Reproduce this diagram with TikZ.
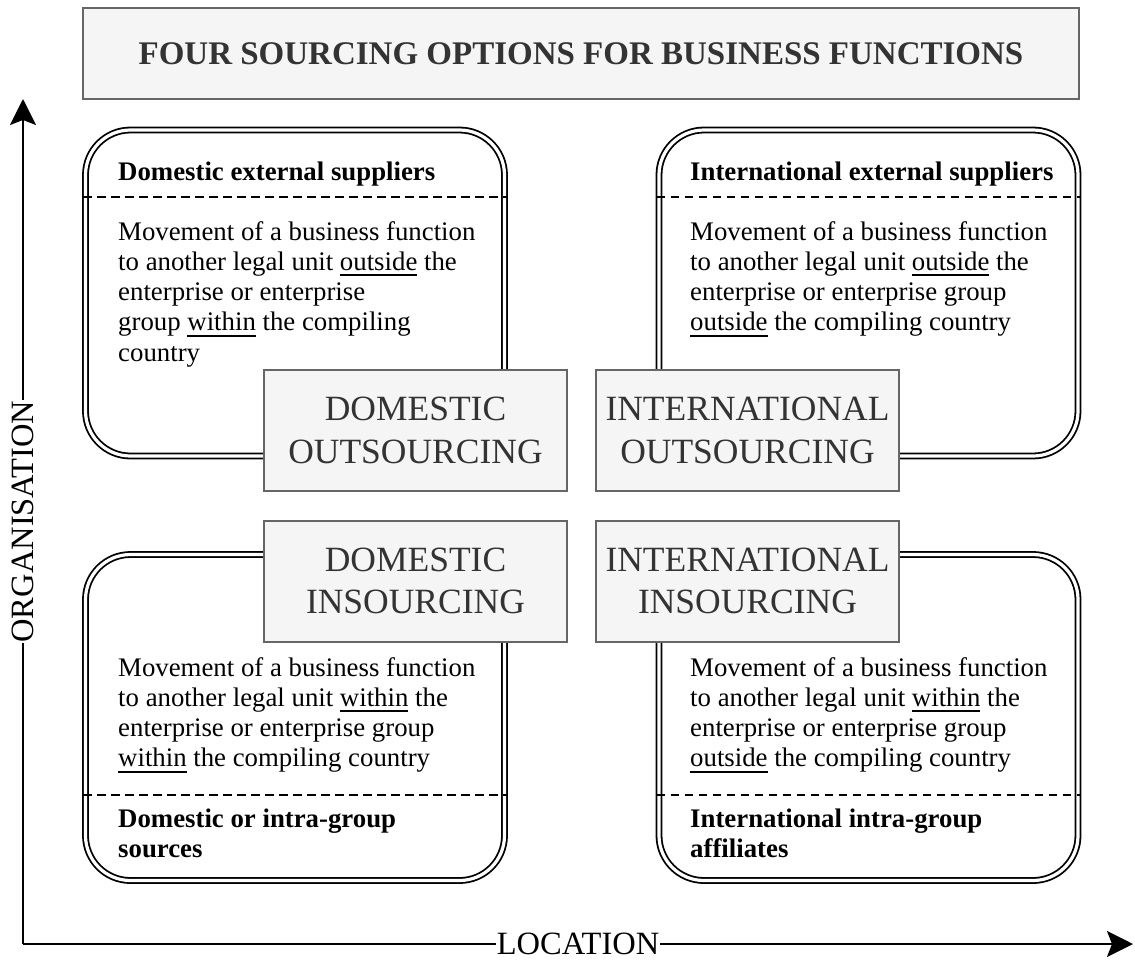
\documentclass[tikz,border=0pt]{standalone}
\usepackage{fontspec}
\setmainfont{Liberation Serif}
\usetikzlibrary{arrows.meta}
\newsavebox\ulbox
\newcommand\undl[1]{\leavevmode\sbox\ulbox{#1}\rlap{\rule[-6pt]{\wd\ulbox}{2pt}}\usebox\ulbox}
\definecolor{boxfill}{HTML}{F5F5F5}
\definecolor{boxline}{HTML}{666666}
\definecolor{txtgray}{HTML}{333333}
\tikzset{
  titlebox/.style={draw=boxline, fill=boxfill, line width=2pt, minimum width=996pt, minimum height=91pt, inner sep=0pt,
    font=\fontsize{33}{40}\selectfont\bfseries, text=txtgray},
  bigbox/.style={draw=boxline, fill=boxfill, line width=2pt, minimum width=303pt, minimum height=121pt, inner sep=0pt,
    align=center, font=\fontsize{35.5}{42.6}\selectfont, text=txtgray},
  quadbox/.style={draw=black, rounded corners=45pt, double=white, double distance=3.2pt, line width=1.8pt,
    minimum width=419pt, minimum height=326pt, inner sep=0pt},
  dashln/.style={draw=black, line width=2.2pt, dash pattern=on 8.5pt off 5.5pt},
  note/.style={anchor=base west, inner sep=0pt, font=\fontsize{26.8}{30.3}\selectfont, text=black},
  axisln/.style={line width=2pt, -{Stealth[length=26pt,width=26pt,inset=5pt]}},
  axlabel/.style={fill=white, inner sep=1pt, font=\fontsize{32.5}{39}\selectfont, text=black},
}
\begin{document}
\begin{tikzpicture}[x=1pt,y=-1pt]
\useasboundingbox (0,0) rectangle (1135,959);
% title
\node[titlebox] (title) at (581,53.5) {FOUR SOURCING OPTIONS FOR BUSINESS FUNCTIONS};
% quadrant boxes
\node[quadbox] (tl) at (295,293) {};
\node[quadbox] (tr) at (868.5,293) {};
\node[quadbox] (bl) at (295,717.5) {};
\node[quadbox] (br) at (868.5,717.5) {};
% dashed separators
\draw[dashln] ([xshift=-1.5pt]tl.west |- 0,197) -- ([xshift=1.5pt]tl.east |- 0,197);
\draw[dashln] ([xshift=-1.5pt]tr.west |- 0,197) -- ([xshift=1.5pt]tr.east |- 0,197);
\draw[dashln] ([xshift=-1.5pt]bl.west |- 0,795) -- ([xshift=1.5pt]bl.east |- 0,795);
\draw[dashln] ([xshift=-1.5pt]br.west |- 0,795) -- ([xshift=1.5pt]br.east |- 0,795);
% headings
\node[note] (tlh) at (118,180) {\bfseries Domestic external suppliers};
\node[note] (trh) at (690,180) {\bfseries International external suppliers};
\node[note] (blh) at (118,827) {\parbox[t]{380pt}{\bfseries Domestic or intra-group\\sources}};
\node[note] (brh) at (690,827) {\parbox[t]{380pt}{\bfseries International intra-group\\affiliates}};
% bodies
\node[note] (tlb) at (118,240) {\parbox[t]{380pt}{Movement of a business function\\to another legal unit \undl{outside} the\\enterprise or enterprise\\group \undl{within} the compiling\\country}};
\node[note] (trb) at (690,240) {\parbox[t]{380pt}{Movement of a business function\\to another legal unit \undl{outside} the\\enterprise or enterprise group\\\undl{outside} the compiling country}};
\node[note] (blb) at (118,676) {\parbox[t]{380pt}{Movement of a business function\\to another legal unit \undl{within} the\\enterprise or enterprise group\\\undl{within} the compiling country}};
\node[note] (brb) at (690,676) {\parbox[t]{380pt}{Movement of a business function\\to another legal unit \undl{within} the\\enterprise or enterprise group\\\undl{outside} the compiling country}};
% center boxes
\node[bigbox] (dout) at (415.5,430.5) {DOMESTIC\\OUTSOURCING};
\node[bigbox] (iout) at (747.5,430.5) {INTERNATIONAL\\OUTSOURCING};
\node[bigbox] (din) at (415.5,581) {DOMESTIC\\INSOURCING};
\node[bigbox] (iin) at (747.5,581) {INTERNATIONAL\\INSOURCING};
% axes
\coordinate (orig) at (23,944);
\coordinate (ytip) at (23,99);
\coordinate (xtip) at (1133,944);
\draw[axisln] (orig) -- node[axlabel, rotate=90] (ylab) {ORGANISATION} (ytip);
\draw[axisln] (orig) -- node[axlabel] (xlab) {LOCATION} (xtip);
\end{tikzpicture}
\end{document}
